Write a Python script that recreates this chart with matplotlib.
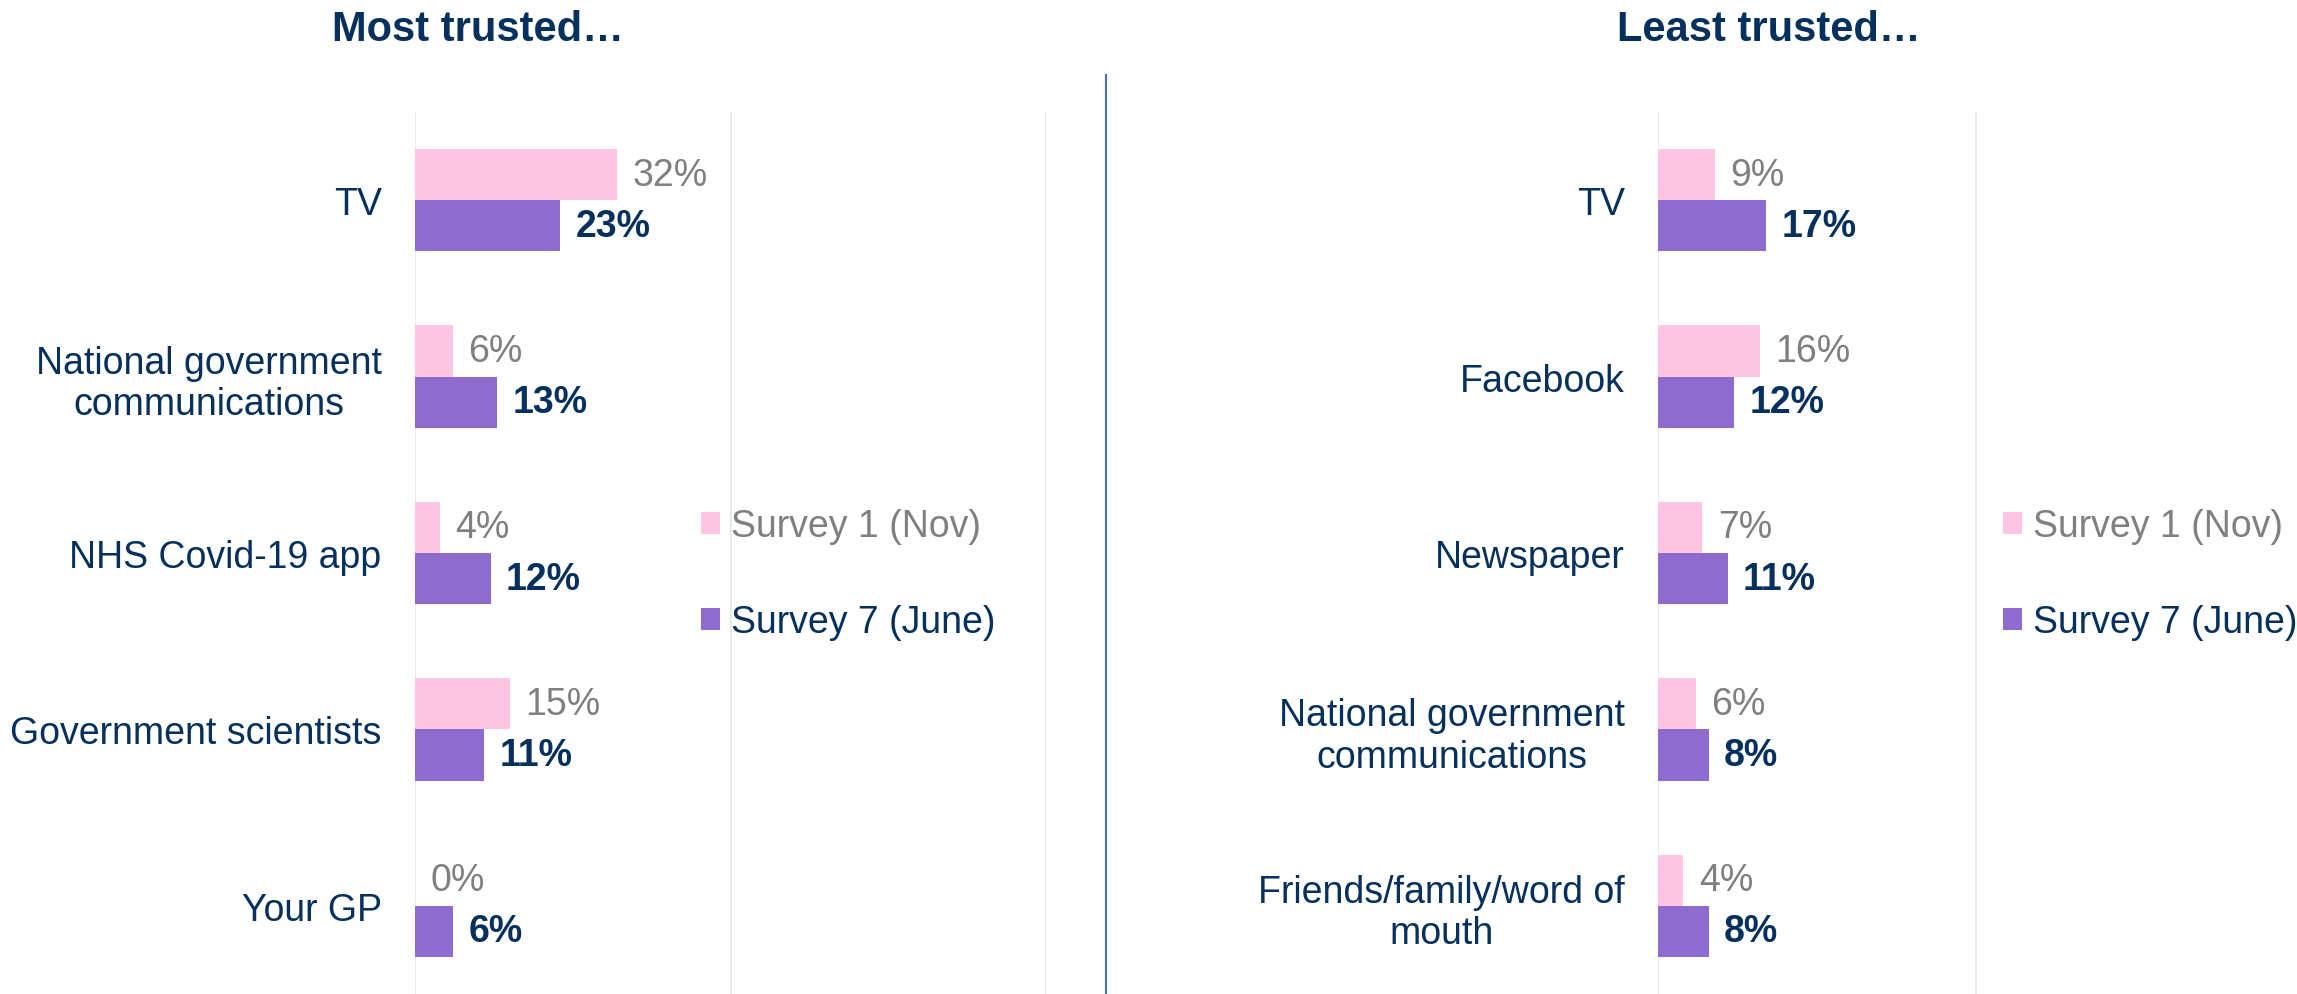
import numpy as np
import matplotlib
matplotlib.use("Agg")
import matplotlib.pyplot as plt

plt.rcParams["font.family"] = ["Liberation Sans", "DejaVu Sans"]

navy = "#06305E"
grey = "#808080"
pink = "#FFC5E3"
purple = "#8E6CCF"
divider_blue = "#4472C4"

series_names = ["Survey 1 (Nov)", "Survey 7 (June)"]

most_labels = ["TV", "National government\ncommunications", "NHS Covid-19 app",
               "Government scientists", "Your GP"]
most_nov = [32, 6, 4, 15, 0]
most_june = [23, 13, 12, 11, 6]

least_labels = ["TV", "Facebook", "Newspaper", "National government\ncommunications",
                "Friends/family/word of\nmouth"]
least_nov = [9, 16, 7, 6, 4]
least_june = [17, 12, 11, 8, 8]

fig = plt.figure(figsize=(22.97, 9.95), dpi=100)

bar_h = 0.29
fs = 27


def panel(rect, labels, nov, june, xticks, legend_anchor):
    ax = fig.add_axes(rect)
    y = np.arange(len(labels))
    b1 = ax.barh(y - bar_h / 2, nov, height=bar_h, color=pink, zorder=3)
    b2 = ax.barh(y + bar_h / 2, june, height=bar_h, color=purple, zorder=3)
    ax.bar_label(b1, labels=[f"{v}%" for v in nov], padding=11,
                 color=grey, fontsize=fs)
    ax.bar_label(b2, labels=[f"{v}%" for v in june], padding=11,
                 color=navy, fontsize=fs, fontweight="bold")
    ax.set_xlim(0, 100)
    ax.set_ylim(len(labels) - 0.5, -0.5)
    ax.set_yticks(y)
    ax.set_yticklabels(labels, fontsize=fs, color=navy, multialignment="center")
    ax.set_xticks(xticks)
    ax.xaxis.set_ticklabels([])
    ax.tick_params(length=0, pad=24)
    ax.grid(axis="x", color="#E6E6E6", linewidth=1.2, zorder=0)
    for s in ax.spines.values():
        s.set_visible(False)
    leg = ax.legend([b1, b2], series_names, loc="center left",
                    bbox_to_anchor=legend_anchor, frameon=False, fontsize=fs,
                    handlelength=0.5, handleheight=0.5, handletextpad=0.3,
                    labelspacing=1.6, borderaxespad=0)
    leg.get_texts()[0].set_color(grey)
    leg.get_texts()[1].set_color(navy)
    return ax


panel([0.1807, 0.0, 0.2747, 0.8864], most_labels, most_nov, most_june,
      [0, 50, 100], (0.43, 0.476))
panel([0.7218, 0.0, 0.2765, 0.8864], least_labels, least_nov, least_june,
      [0, 50], (0.52, 0.476))

fig.text(0.208, 0.97, "Most trusted…", ha="center", va="center",
         fontsize=30, fontweight="bold", color=navy)
fig.text(0.770, 0.97, "Least trusted…", ha="center", va="center",
         fontsize=30, fontweight="bold", color=navy)

# vertical divider between the two panels
fig.add_artist(plt.Line2D([0.4815, 0.4815], [0.0, 0.924], color=divider_blue,
                          linewidth=1.5, transform=fig.transFigure))

fig.savefig("out.png", dpi=100)
